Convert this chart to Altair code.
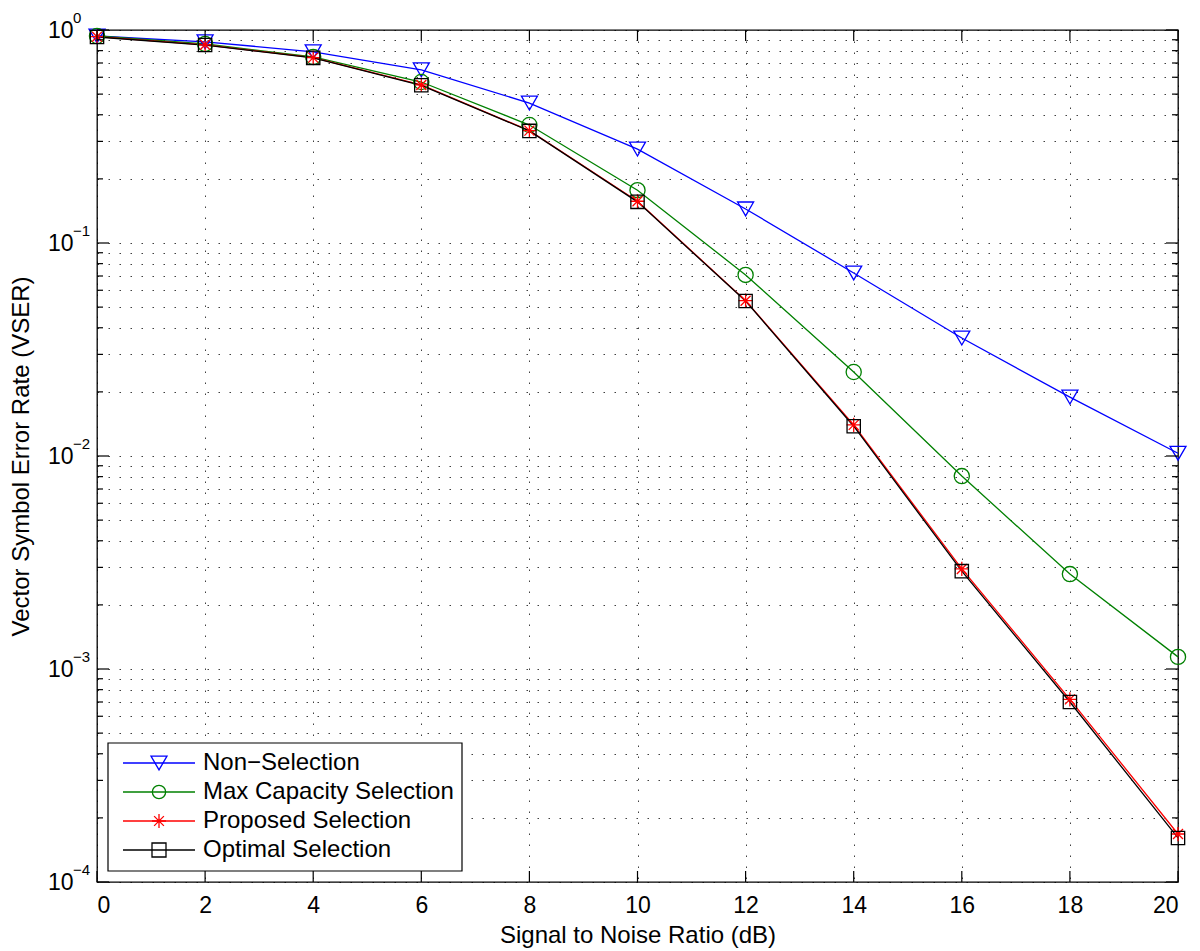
import altair as alt
import pandas as pd

# ---------------- data ----------------
snr = [0, 2, 4, 6, 8, 10, 12, 14, 16, 18, 20]
non_selection = [0.937, 0.88, 0.79, 0.65, 0.454, 0.276, 0.1445, 0.0723, 0.0358, 0.0189, 0.0103]
max_capacity = [0.937, 0.86, 0.747, 0.57, 0.358, 0.177, 0.0708, 0.0248, 0.00805, 0.00279, 0.00114]
proposed = [0.93, 0.852, 0.742, 0.552, 0.337, 0.157, 0.0536, 0.0140, 0.00295, 0.00072, 0.000168]
optimal = [0.927, 0.85, 0.74, 0.55, 0.336, 0.156, 0.0534, 0.0138, 0.00288, 0.00070, 0.000161]

series_names = ["Non\u2212Selection", "Max Capacity Selection", "Proposed Selection", "Optimal Selection"]
series_values = [non_selection, max_capacity, proposed, optimal]
colors = ["#0000ff", "#008000", "#ff0000", "#000000"]
asterisk = "M-1,0L1,0M0,-1L0,1M-0.7,-0.7L0.7,0.7M-0.7,0.7L0.7,-0.7"
shapes = ["triangle-down", "circle", asterisk, "square"]
sizes = [256, 177, 196, 196]

x_ticks = [0, 2, 4, 6, 8, 10, 12, 14, 16, 18, 20]
y_major = [1e-4, 1e-3, 1e-2, 1e-1, 1.0]
y_exponents = ["\u22124", "\u22123", "\u22122", "\u22121", "0"]
y_minor = [m * 10.0 ** k for k in range(-4, 0) for m in range(2, 10)]

W, H = 1081, 852
FONT = "Liberation Sans"

rows = []
for name, vals in zip(series_names, series_values):
    for xv, yv in zip(snr, vals):
        rows.append({"series": name, "snr": xv, "vser": yv})
df = pd.DataFrame(rows)

xscale = alt.Scale(domain=[0, 20], nice=False, zero=False)
yscale = alt.Scale(type="log", domain=[1e-4, 1], nice=False)
cscale = alt.Scale(domain=series_names, range=colors)
sscale = alt.Scale(domain=series_names, range=shapes)

decade_expr = "abs(log(datum.value)/LN10 - round(log(datum.value)/LN10)) < 1e-6 ? '10' : ''"

lines = alt.Chart(df).mark_line(strokeWidth=1.3).encode(
    x=alt.X("snr:Q", scale=xscale,
            axis=alt.Axis(values=x_ticks, title="Signal to Noise Ratio (dB)", grid=True,
                          ticks=False, domain=False, labelFontSize=23, labelPadding=12,
                          labelFont=FONT, labelColor="#000", titleFont=FONT, titleFontSize=24,
                          titleFontWeight="normal", titleColor="#000", titlePadding=6,
                          gridColor="#000", gridOpacity=0.75, gridDash=[1.5, 9.5], gridWidth=1)),
    y=alt.Y("vser:Q", scale=yscale,
            axis=alt.Axis(values=y_major + y_minor, labelExpr=decade_expr,
                          title="Vector Symbol Error Rate (VSER)", grid=True, ticks=False,
                          domain=False, labelFontSize=23, labelPadding=24, labelFont=FONT,
                          labelColor="#000", titleFont=FONT, titleFontSize=24,
                          titleFontWeight="normal", titleColor="#000", titleX=-76, titleY=H / 2,
                          titleBaseline="middle", titleAlign="center", titleAngle=270,
                          gridColor="#000", gridOpacity=0.75, gridDash=[1.5, 9.5], gridWidth=1)),
    color=alt.Color("series:N", scale=cscale, legend=None),
    detail="series:N",
    order=alt.Order("snr:Q"),
)

points = alt.Chart(df).mark_point(filled=False, strokeWidth=1.3, opacity=1).encode(
    x=alt.X("snr:Q", scale=xscale),
    y=alt.Y("vser:Q", scale=yscale),
    color=alt.Color("series:N", scale=cscale, legend=None),
    shape=alt.Shape("series:N", scale=sscale, legend=None),
    size=alt.Size("series:N", scale=alt.Scale(domain=series_names, range=sizes), legend=None),
)

# ---------------- inside ticks (MATLAB style) ----------------
dfx = pd.DataFrame({"t": x_ticks})
dfmaj = pd.DataFrame({"v": y_major})
dfmin = pd.DataFrame({"v": y_minor})

def xt(y0, y1):
    return alt.Chart(dfx).mark_rule(color="black", strokeWidth=1.2).encode(
        x=alt.X("t:Q", scale=xscale), y=alt.value(y0), y2=alt.value(y1))

def yt(d, x0, x1):
    return alt.Chart(d).mark_rule(color="black", strokeWidth=1.2).encode(
        y=alt.Y("v:Q", scale=yscale), x=alt.value(x0), x2=alt.value(x1))

ticks = [
    xt(H, H - 11), xt(0, 11),
    yt(dfmaj, 0, 12), yt(dfmaj, W, W - 12),
    yt(dfmin, 0, 6), yt(dfmin, W, W - 6),
]

exps = alt.Chart(pd.DataFrame({"v": y_major, "e": y_exponents})).mark_text(
    align="left", baseline="middle", fontSize=15, font=FONT, color="black", dy=-12
).encode(y=alt.Y("v:Q", scale=yscale), x=alt.value(-24), text="e:N")

# ---------------- legend (MATLAB style box) ----------------
one = pd.DataFrame({"a": [0]})
legend_layers = [
    alt.Chart(one).mark_rect(fill="white", stroke="black", strokeWidth=1.2).encode(
        x=alt.value(11), x2=alt.value(365), y=alt.value(713), y2=alt.value(841))
]
legend_y = [733, 762, 791, 820]
for name, col, shp, sz, ly in zip(series_names, colors, shapes, sizes, legend_y):
    legend_layers.append(alt.Chart(one).mark_rule(color=col, strokeWidth=1.3).encode(
        x=alt.value(26), x2=alt.value(98), y=alt.value(ly)))
    legend_layers.append(alt.Chart(one).mark_point(filled=False, color=col, strokeWidth=1.3,
                                                   opacity=1, shape=shp, size=sz).encode(
        x=alt.value(62), y=alt.value(ly)))
    legend_layers.append(alt.Chart(one).mark_text(align="left", baseline="middle", fontSize=24,
                                                  font=FONT, color="black", text=name).encode(
        x=alt.value(106), y=alt.value(ly)))

chart = alt.layer(lines, points, *ticks, exps, *legend_layers).properties(
    width=W, height=H,
    autosize=alt.AutoSizeParams(type="none"),
    padding={"left": 89, "top": 22, "right": 10, "bottom": 69},
    background="white",
).configure_view(stroke="black", strokeWidth=1.3)

chart.save("out.html", embed_options={"renderer": "svg", "actions": False})
